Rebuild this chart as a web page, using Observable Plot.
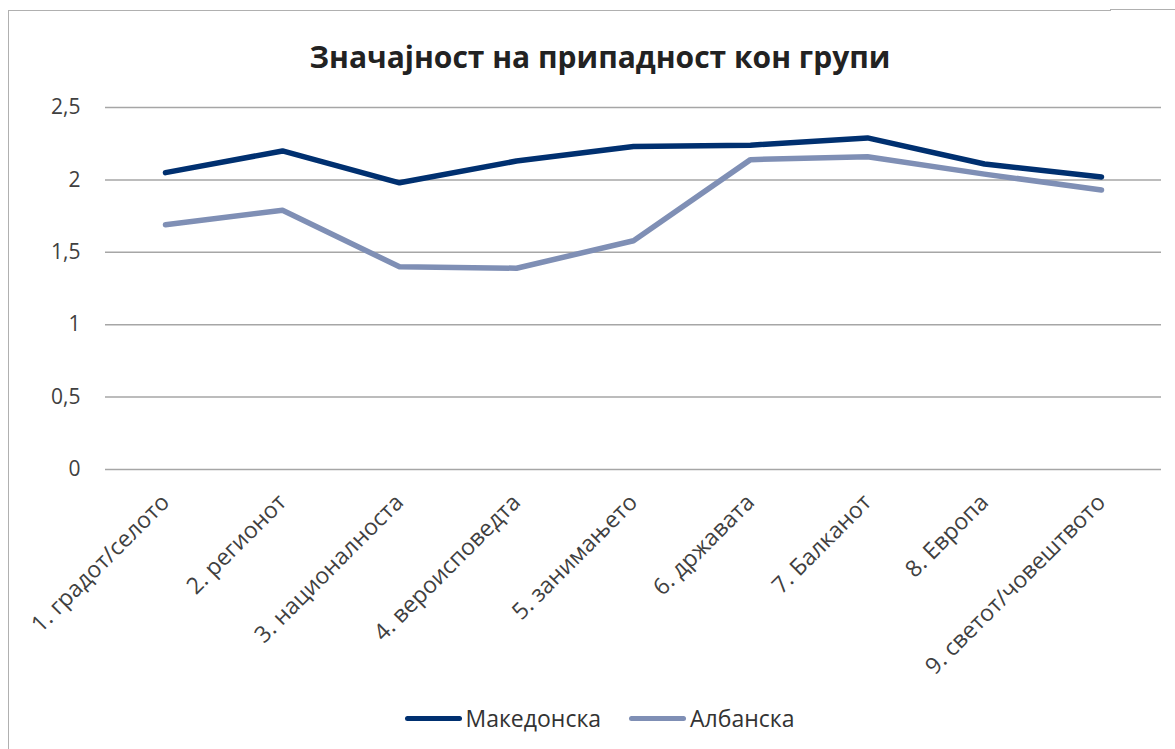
<!DOCTYPE html>
<html>
<head>
<meta charset="utf-8">
<script src="https://cdn.jsdelivr.net/npm/d3@7"></script>
<script src="https://cdn.jsdelivr.net/npm/@observablehq/plot@0.6"></script>
<style>
  html, body { margin: 0; padding: 0; background: #fff; }
  #wrap { position: relative; width: 1175px; height: 749px; overflow: hidden; font-family: "Open Sans", sans-serif; }
  #frame { position: absolute; left: 8px; top: 10px; width: 1102px; height: 760px; border-left: 1.5px solid #b0b0b0; border-top: 1.5px solid #b0b0b0; }
  #frame2 { position: absolute; left: 1110px; top: 9px; width: 70px; border-top: 1.5px solid #b0b0b0; }
  #title { position: absolute; left: 25px; top: 36px; width: 1150px; text-align: center; font-weight: bold; font-size: 30px; line-height: 41px; color: #222; }
  #chart { position: absolute; left: 0; top: 75px; }
  #legend { position: absolute; left: 12px; top: 702px; width: 1175px; display: flex; justify-content: center; align-items: center; font-size: 23px; color: #333; }
  .item { display: flex; align-items: center; margin: 0 14px; }
  .sw { width: 57px; height: 5px; border-radius: 3px; margin-right: 4px; }
</style>
</head>
<body>
<div id="wrap">
  <div id="frame"></div>
  <div id="frame2"></div>
  <div id="title">Значајност на припадност кон групи</div>
  <div id="chart"></div>
  <div id="legend"></div>
</div>
<script>
const categories = ["1. градот/селото", "2. регионот", "3. националноста", "4. вероисповедта", "5. занимањето", "6. државата", "7. Балканот", "8. Европа", "9. светот/човештвото"];
const seriesNames = ["Македонска", "Албанска"];
const seriesColors = ["#003070", "#7f8fb5"];
const macedonian = [2.05, 2.20, 1.98, 2.13, 2.23, 2.24, 2.29, 2.11, 2.02];
const albanian = [1.69, 1.79, 1.40, 1.39, 1.58, 2.14, 2.16, 2.04, 1.93];
const yTicks = [0, 0.5, 1, 1.5, 2, 2.5];

const rows = [];
categories.forEach((c, i) => {
  rows.push({cat: c, series: seriesNames[0], value: macedonian[i]});
  rows.push({cat: c, series: seriesNames[1], value: albanian[i]});
});

const fmt = d => String(d).replace(".", ",");

const chart = Plot.plot({
  width: 1175,
  height: 620,
  marginTop: 32,
  marginBottom: 226,
  marginLeft: 105,
  marginRight: 14,
  style: {fontFamily: "Open Sans, sans-serif", fontSize: "21px", color: "#404040", background: "transparent"},
  x: {type: "point", domain: categories, padding: 0.5, label: null},
  y: {domain: [0, 2.5], label: null},
  color: {domain: seriesNames, range: seriesColors},
  marks: [
    Plot.ruleY(yTicks, {stroke: "#a6a6a6", strokeWidth: 1.5, strokeOpacity: 1}),
    Plot.axisY({ticks: yTicks, tickFormat: fmt, tickSize: 0, tickPadding: 25, fontSize: 21, fill: "#404040"}),
    Plot.axisX({tickSize: 0, tickRotate: -45, tickPadding: 29, fontSize: 23, fill: "#404040"}),
    Plot.line(rows, {x: "cat", y: "value", z: "series", stroke: "series", strokeWidth: 5.5, strokeLinecap: "round", strokeLinejoin: "round"})
  ]
});
document.getElementById("chart").appendChild(chart);

const legend = document.getElementById("legend");
seriesNames.forEach((n, i) => {
  const it = document.createElement("div");
  it.className = "item";
  it.innerHTML = `<div class="sw" style="background:${seriesColors[i]}"></div><span>${n}</span>`;
  legend.appendChild(it);
});
</script>
</body>
</html>
